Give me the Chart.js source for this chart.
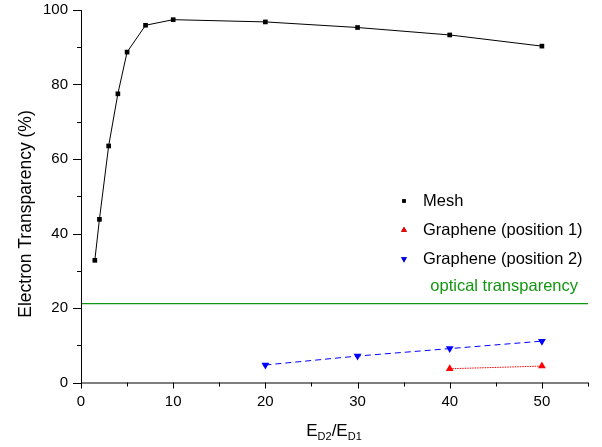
<!DOCTYPE html>
<html>
<head>
<meta charset="utf-8">
<script src="https://cdn.jsdelivr.net/npm/chart.js@4"></script>
<style>
  html, body { margin: 0; padding: 0; background: #fff; }
  #wrap { width: 602px; height: 447px; }
</style>
</head>
<body>
<div id="wrap"><canvas id="chart" width="602" height="447"></canvas></div>
<script>
// data
const meshX = [1.5, 2, 3, 4, 5, 7, 10, 20, 30, 40, 50];
const meshY = [32.8, 43.8, 63.5, 77.5, 88.7, 95.9, 97.4, 96.8, 95.3, 93.3, 90.3];
const pos1X = [40, 50];
const pos1Y = [3.7, 4.4];
const pos2X = [20, 30, 40, 50];
const pos2Y = [4.7, 7.1, 9.1, 11.1];
const opticalX = [0, 55];
const opticalY = [21.2, 21.2];
const xTicks = [0, 10, 20, 30, 40, 50];
const yTicks = [0, 20, 40, 60, 80, 100];

const FONT = '"Liberation Sans", Arial, sans-serif';
const GREEN = '#119611';

const pts = (xs, ys) => xs.map((x, i) => ({ x: x, y: ys[i] }));

// axes ticks, titles, legend and the label for the green line
const decor = {
    id: 'decor',
    afterDraw(chart) {
        const ctx = chart.ctx;
        const xs = chart.scales.x, ys = chart.scales.y;
        const area = chart.chartArea;
        ctx.save();
        ctx.strokeStyle = '#000';
        ctx.lineWidth = 1;
        ctx.beginPath();
        ctx.moveTo(area.left + 0.5, area.top);
        ctx.lineTo(area.left + 0.5, area.bottom + 0.5);
        ctx.lineTo(area.right, area.bottom + 0.5);
        ctx.stroke();

        // x ticks, every 5, major every 10
        for (let v = 0; v <= 55; v += 5) {
            const px = Math.round(xs.getPixelForValue(v)) + 0.5;
            const len = v % 10 === 0 ? 6 : 4;
            ctx.beginPath();
            ctx.moveTo(px, area.bottom);
            ctx.lineTo(px, area.bottom + len);
            ctx.stroke();
        }
        // y ticks, every 10, major every 20
        for (let v = 0; v <= 100; v += 10) {
            const py = Math.round(ys.getPixelForValue(v)) + 0.5;
            const len = v % 20 === 0 ? 8 : 4;
            ctx.beginPath();
            ctx.moveTo(area.left, py);
            ctx.lineTo(area.left - len, py);
            ctx.stroke();
        }

        ctx.fillStyle = '#000';
        ctx.font = '15px ' + FONT;
        ctx.textAlign = 'center';
        ctx.textBaseline = 'top';
        xTicks.forEach(v => ctx.fillText(String(v), xs.getPixelForValue(v), area.bottom + 12));
        ctx.textAlign = 'right';
        ctx.textBaseline = 'middle';
        yTicks.forEach(v => ctx.fillText(String(v), area.left - 13, ys.getPixelForValue(v)));

        // x title with subscripts
        const big = '17px ' + FONT, small = '11px ' + FONT;
        const parts = [['E', big, 0], ['D2', small, 4], ['/E', big, 0], ['D1', small, 4]];
        let total = 0;
        parts.forEach(p => { ctx.font = p[1]; total += ctx.measureText(p[0]).width; });
        let cx = 334 - total / 2;
        ctx.textAlign = 'left';
        ctx.textBaseline = 'alphabetic';
        parts.forEach(p => {
            ctx.font = p[1];
            ctx.fillText(p[0], cx, 436 + p[2]);
            cx += ctx.measureText(p[0]).width;
        });

        // y title
        ctx.save();
        ctx.translate(31, 214);
        ctx.rotate(-Math.PI / 2);
        ctx.font = '17.5px ' + FONT;
        ctx.textAlign = 'center';
        ctx.fillText('Electron Transparency (%)', 0, 0);
        ctx.restore();

        // legend
        const items = [
            { label: 'Mesh', ds: chart.data.datasets[0] },
            { label: 'Graphene (position 1)', ds: chart.data.datasets[1] },
            { label: 'Graphene (position 2)', ds: chart.data.datasets[2] }
        ];
        ctx.font = '16.5px ' + FONT;
        ctx.textBaseline = 'middle';
        items.forEach((it, i) => {
            const y = 201 + i * 29;
            Chart.helpers.drawPoint(ctx, {
                pointStyle: it.ds.pointStyle,
                radius: it.ds.pointRadius * 0.75,
                rotation: it.ds.rotation || 0,
                borderWidth: 0
            }, 404, y);
            ctx.fillStyle = it.ds.pointBackgroundColor;
            ctx.fill();
            ctx.fillStyle = '#000';
            ctx.fillText(it.label, 423, y);
        });

        // optical line label
        ctx.fillStyle = GREEN;
        ctx.font = '16.5px ' + FONT;
        ctx.textAlign = 'right';
        ctx.textBaseline = 'alphabetic';
        ctx.fillText('optical transparency', 578, 291);
        ctx.restore();
    }
};

new Chart(document.getElementById('chart').getContext('2d'), {
    type: 'scatter',
    data: {
        datasets: [
            {
                label: 'Mesh',
                data: pts(meshX, meshY),
                showLine: true,
                borderColor: '#000',
                borderWidth: 1,
                pointStyle: 'rect',
                pointRadius: 3.3,
                pointBackgroundColor: '#000',
                pointBorderWidth: 0
            },
            {
                label: 'Graphene (position 1)',
                data: pts(pos1X, pos1Y),
                showLine: true,
                borderColor: '#ff0000',
                borderWidth: 1,
                borderDash: [1.5, 1],
                pointStyle: 'triangle',
                pointRadius: 4.5,
                pointBackgroundColor: '#ff0000',
                pointBorderWidth: 0
            },
            {
                label: 'Graphene (position 2)',
                data: pts(pos2X, pos2Y),
                showLine: true,
                borderColor: '#0000ff',
                borderWidth: 1,
                borderDash: [6, 4],
                pointStyle: 'triangle',
                rotation: 180,
                pointRotation: 180,
                pointRadius: 4.5,
                pointBackgroundColor: '#0000ff',
                pointBorderWidth: 0
            },
            {
                label: 'optical transparency',
                data: pts(opticalX, opticalY),
                showLine: true,
                borderColor: GREEN,
                borderWidth: 1.2,
                pointRadius: 0
            }
        ]
    },
    options: {
        responsive: false,
        animation: false,
        clip: false,
        layout: { padding: { left: 0, top: 10, right: 14, bottom: 0 } },
        plugins: { legend: { display: false }, tooltip: { enabled: false } },
        scales: {
            x: {
                type: 'linear', min: 0, max: 55,
                grid: { display: false, drawTicks: false },
                border: { display: false },
                ticks: { display: false },
                afterFit(s) { s.height = 64.5; }
            },
            y: {
                type: 'linear', min: 0, max: 100,
                grid: { display: false, drawTicks: false },
                border: { display: false },
                ticks: { display: false },
                afterFit(s) { s.width = 81; }
            }
        }
    },
    plugins: [decor]
});
</script>
</body>
</html>
